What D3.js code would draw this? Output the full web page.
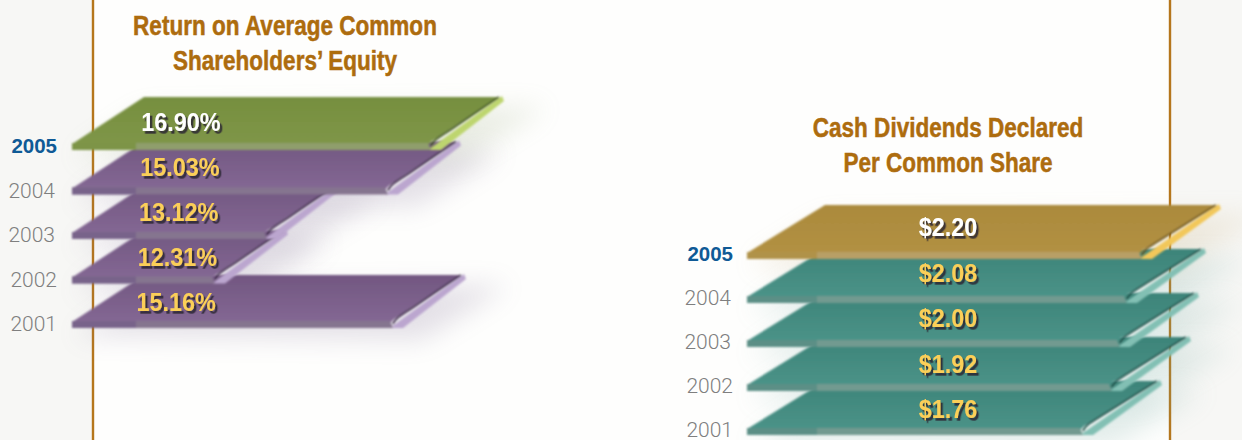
<!DOCTYPE html>
<html>
<head>
<meta charset="utf-8">
<script src="https://cdn.jsdelivr.net/npm/d3@7/dist/d3.min.js"></script>
<style>
  html, body { margin: 0; padding: 0; background: #f7f7f5; }
  svg { display: block; }
  text { font-family: "Liberation Sans", Arial, sans-serif; }
  .title { font-weight: 700; font-size: 27px; fill: #ad6c0e; stroke: #ad6c0e; stroke-width: 0.5px; text-anchor: middle; }
  .year { font-family: Roboto, "Liberation Sans", sans-serif; font-weight: 300; font-size: 21px; fill: #7f7f7f; text-anchor: end; }
  .year.latest { font-family: "Liberation Sans", sans-serif; font-size: 20.5px; font-weight: 700; fill: #0f5a96; }
  .value { font-size: 26px; font-weight: 700; text-anchor: middle; }
</style>
</head>
<body>
<svg id="chart" width="1242" height="440"></svg>
<script>
const years = ["2005", "2004", "2003", "2002", "2001"];

const equityValues = [16.90, 15.03, 13.12, 12.31, 15.16];
const equityLabels = ["16.90%", "15.03%", "13.12%", "12.31%", "15.16%"];
const equityTitle = ["Return on Average Common", "Shareholders\u2019 Equity"];

const dividendValues = [2.20, 2.08, 2.00, 1.92, 1.76];
const dividendLabels = ["$2.20", "$2.08", "$2.00", "$1.92", "$1.76"];
const dividendTitle = ["Cash Dividends Declared", "Per Common Share"];

const svg = d3.select("#chart");
const defs = svg.append("defs");
defs.append("filter").attr("id", "soft").attr("x", "-30%").attr("y", "-100%").attr("width", "160%").attr("height", "300%")
  .append("feGaussianBlur").attr("stdDeviation", 13);
defs.append("filter").attr("id", "edge").attr("x", "-5%").attr("y", "-5%").attr("width", "110%").attr("height", "110%")
  .append("feGaussianBlur").attr("stdDeviation", 0.9);
defs.append("filter").attr("id", "textShadow").attr("x", "-10%").attr("y", "-20%").attr("width", "125%").attr("height", "150%")
  .append("feDropShadow")
  .attr("dx", 2.6).attr("dy", 2.7).attr("stdDeviation", 0.7)
  .attr("flood-color", "#2c2630").attr("flood-opacity", 0.85);

// White page area between the two rules, on the off-white paper.
svg.append("rect").attr("x", 93).attr("y", 0).attr("width", 1077).attr("height", 440).attr("fill", "#fefefd");

// Rule lines framing the two panels, behind the bars.
svg.selectAll("line.rule").data([93, 1170]).join("line")
  .attr("class", "rule")
  .attr("x1", d => d).attr("x2", d => d)
  .attr("y1", 0).attr("y2", 440)
  .attr("stroke", "#b5761c").attr("stroke-width", 2.4);

const purple = { id: "p", top: "#725781", bottom: "#846894", front: "#85758f", frontDark: "#78638a", strip: "#bba6cf", line: "#3d2b4a", shadow: "#7d6c90", text: "#fbcf58" };
const green  = { id: "g", top: "#768f3f", bottom: "#7f9648", front: "#8f9e6c", frontDark: "#7d9446", strip: "#bdd56e", line: "#3e5420", shadow: "#9aaa80", text: "#ffffff" };
const teal   = { id: "t", top: "#3d8479", bottom: "#4b9388", front: "#729a90", frontDark: "#5b8f86", strip: "#82c0b4", line: "#1f4f48", shadow: "#74a8a0", text: "#fbcf58" };
const gold   = { id: "o", top: "#ab8a3c", bottom: "#b29143", front: "#b89f66", frontDark: "#b0924a", strip: "#f2c75a", line: "#6d5318", shadow: "#c4aa76", text: "#ffffff" };

[purple, green, teal, gold].forEach(c => {
  const grad = defs.append("linearGradient").attr("id", "face-" + c.id)
    .attr("x1", 0).attr("x2", 0).attr("y1", 0).attr("y2", 1);
  grad.append("stop").attr("offset", 0).attr("stop-color", c.top);
  grad.append("stop").attr("offset", 1).attr("stop-color", c.bottom);
});

function drawPanel(cfg) {
  const g = svg.append("g");

  // Bars share a baseline at x0; the value scale gives each its front-edge length.
  const x = d3.scaleLinear().domain(cfg.domain).range(cfg.range);
  const y = d3.scalePoint().domain(years).range(cfg.yRange);
  const labelY = d3.scalePoint().domain(years).range(cfg.labelRange);

  const rows = years.map((year, i) => ({
    year, value: cfg.values[i], label: cfg.labels[i], i,
    colors: i === 0 ? cfg.latest : cfg.base
  }));
  const h = cfg.depth, dx = cfg.shear;
  const poly = d3.line();

  // Soft ground shadows, all underneath.
  g.selectAll("path.shadow").data(rows).join("path")
    .attr("class", "shadow")
    .attr("d", d => {
      const b = y(d.year), xr = x(d.value);
      return poly([[cfg.x0 + 2, b + 8], [cfg.x0 + dx, b - h + 14], [xr + dx + 45, b - h + 10], [xr + 30, b + 12]]) + "Z";
    })
    .attr("fill", d => d.colors.shadow)
    .attr("opacity", 0.2)
    .attr("filter", "url(#soft)");

  // Bars are painted back to front so the latest year sits on top.
  const bars = g.selectAll("g.bar").data(rows.slice().reverse()).join("g")
    .attr("class", "bar").attr("filter", "url(#edge)");

  bars.append("path")
    .attr("d", d => {
      const b = y(d.year), xr = x(d.value);
      return poly([[xr - 2, b], [xr + dx, b - h - 1], [xr + dx + 2, b - h + 4], [xr + 11, b]]) + "Z";
    })
    .attr("fill", d => d.colors.strip);

  bars.append("path")
    .attr("d", d => {
      const b = y(d.year), xr = x(d.value);
      return poly([[cfg.x0, b - 6], [cfg.x0 + dx, b - h], [xr + dx - 3, b - h], [xr + 2, b - 9], [xr - 2, b - 5]]) + "Z";
    })
    .attr("fill", d => `url(#face-${d.colors.id})`);

  bars.append("path")
    .attr("d", d => {
      const b = y(d.year), xr = x(d.value);
      return d3.line().curve(d3.curveBasis)([[xr + dx - 3, b - h], [xr + 16, b - 17], [xr + 4, b - 10], [xr + 1, b - 4]]);
    })
    .attr("fill", "none")
    .attr("stroke", d => d.colors.line)
    .attr("stroke-width", 1.8);

  bars.append("path")
    .attr("d", d => {
      const b = y(d.year), xr = x(d.value);
      return poly([[cfg.x0, b - 7], [xr - 2, b - 7], [xr + 1, b], [cfg.x0, b]]) + "Z";
    })
    .attr("fill", d => d.colors.front);

  bars.append("path")
    .attr("d", d => {
      const b = y(d.year);
      return poly([[cfg.x0, b - 7], [cfg.x0 + dx - 8, b - 7], [cfg.x0 + dx - 8, b], [cfg.x0, b]]) + "Z";
    })
    .attr("fill", d => d.colors.frontDark);

  // Year captions down the left of each panel; the two oldest sit slightly further right.
  g.selectAll("text.year").data(rows).join("text")
    .attr("class", d => d.i === 0 ? "year latest" : "year")
    .attr("x", d => cfg.yearX + (d.i === 0 || d.i > 2 ? 2 : 0))
    .attr("y", d => y(d.year) + cfg.yearDy)
    .text(d => d.year);

  // Value labels carry a dark offset drop shadow.
  const labelX = d => cfg.labelX + cfg.labelDrift * d.i;
  g.selectAll("text.value").data(rows).join("text")
    .attr("class", "value")
    .attr("x", 0).attr("y", 0)
    .attr("fill", d => d.colors.text)
    .attr("filter", "url(#textShadow)")
    .attr("transform", d => `translate(${labelX(d)},${labelY(d.year) + 9}) scale(${cfg.labelSqueeze},1)`)
    .text(d => d.label);

  // Titles are condensed horizontally around their centre.
  g.selectAll("text.title").data(cfg.title).join("text")
    .attr("class", "title")
    .attr("x", 0)
    .attr("y", 0)
    .attr("transform", (d, i) => `translate(${cfg.titleX},${cfg.titleY + i * 35}) scale(0.835,1)`)
    .text(d => d);
}

drawPanel({
  values: equityValues, labels: equityLabels, title: equityTitle,
  base: purple, latest: green,
  domain: [12.31, 13.12, 15.03, 15.16, 16.90], range: [214, 266, 387, 392, 430],
  yRange: [150, 328], x0: 72, depth: 53, shear: 72,
  yearX: 55, yearDy: 3, labelX: 181, labelDrift: -1.2, labelRange: [122, 302], labelSqueeze: 0.9,
  titleX: 285, titleY: 35
});

drawPanel({
  values: dividendValues, labels: dividendLabels, title: dividendTitle,
  base: teal, latest: gold,
  domain: [1.76, 1.92, 2.00, 2.08, 2.20], range: [1082, 1111, 1119, 1126, 1141],
  yRange: [259, 435], x0: 747, depth: 54, shear: 78,
  yearX: 731, yearDy: 2, labelX: 948, labelDrift: 0, labelRange: [227, 409], labelSqueeze: 0.9,
  titleX: 948, titleY: 137
});
</script>
</body>
</html>
